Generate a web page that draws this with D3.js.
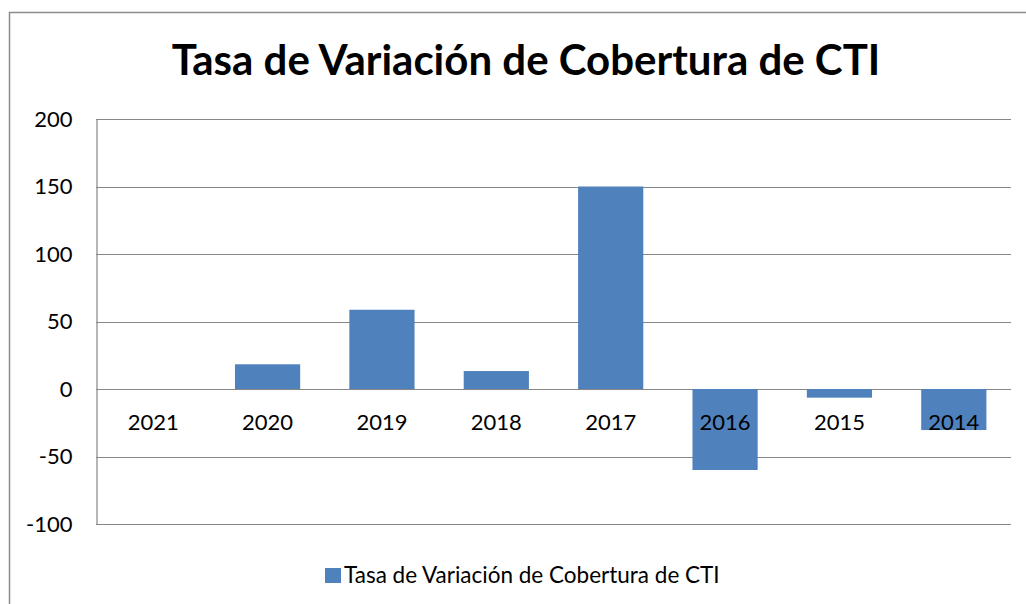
<!DOCTYPE html>
<html>
<head>
<meta charset="utf-8">
<script src="https://cdn.jsdelivr.net/npm/d3@7"></script>
<style>
  body { margin: 0; background: #fff; }
  text { font-family: Lato, "Open Sans", sans-serif; fill: #000; }
</style>
</head>
<body>
<script>
// chart data
const years = ['2021', '2020', '2019', '2018', '2017', '2016', '2015', '2014'];
const values = [0, 18.3, 58.7, 13.3, 150, -60, -6.4, -30.4];
const yTicks = [-100, -50, 0, 50, 100, 150, 200];
const chartTitle = 'Tasa de Variación de Cobertura de CTI';
const seriesName = 'Tasa de Variación de Cobertura de CTI';

const WIDTH = 1026;
const HEIGHT = 604;
const PLOT = {left: 96, right: 1011, top: 119, bottom: 524};
const BAR_COLOR = '#4f81bd';
const GRID_COLOR = '#868686';

const svg = d3.select('body')
  .append('svg')
  .attr('width', WIDTH)
  .attr('height', HEIGHT);

// outer chart border (top and left only visible)
svg.append('path')
  .attr('d', 'M9.5,' + HEIGHT + ' V12.5 H' + WIDTH)
  .attr('fill', 'none')
  .attr('stroke', '#8c8c8c')
  .attr('stroke-width', 1.5);

// title
svg.append('text')
  .attr('x', 526)
  .attr('y', 75)
  .attr('text-anchor', 'middle')
  .style('font-size', '42px')
  .style('font-weight', 'bold')
  .text(chartTitle);

// scales
const xScale = d3.scaleBand()
  .domain(years)
  .range([PLOT.left, PLOT.right])
  .paddingInner(0.43)
  .paddingOuter(0.215);

const yScale = d3.scaleLinear()
  .domain([-100, 200])
  .range([PLOT.bottom, PLOT.top]);

// gridlines
svg.append('g')
  .attr('class', 'grid')
  .selectAll('line')
  .data(yTicks)
  .enter().append('line')
  .attr('x1', PLOT.left)
  .attr('x2', PLOT.right)
  .attr('y1', d => Math.round(yScale(d)) + 0.5)
  .attr('y2', d => Math.round(yScale(d)) + 0.5)
  .attr('stroke', GRID_COLOR)
  .attr('stroke-width', 1.2);

// y axis
const yAxis = d3.axisLeft(yScale)
  .tickValues(yTicks)
  .tickFormat(d => String(d))
  .tickSize(0)
  .tickPadding(24);

const yG = svg.append('g')
  .attr('class', 'y-axis')
  .attr('transform', 'translate(' + (PLOT.left + 0.5) + ',0)')
  .call(yAxis);

yG.select('.domain')
  .attr('stroke', GRID_COLOR)
  .attr('stroke-width', 1.2);

yG.selectAll('text')
  .style('font-size', '22px')
  .style('font-family', 'Lato, sans-serif')
  .attr('fill', '#000');

// bars
svg.selectAll('.bar')
  .data(values)
  .enter().append('rect')
  .attr('class', 'bar')
  .attr('x', (d, i) => xScale(years[i]))
  .attr('width', xScale.bandwidth())
  .attr('y', d => yScale(Math.max(0, d)))
  .attr('height', d => Math.abs(yScale(d) - yScale(0)))
  .attr('fill', BAR_COLOR);

// category labels near the zero line
const xAxis = d3.axisBottom(xScale)
  .tickSize(0)
  .tickPadding(25);

const xG = svg.append('g')
  .attr('class', 'x-axis')
  .attr('transform', 'translate(0,' + yScale(0) + ')')
  .call(xAxis);

xG.select('.domain').remove();
xG.selectAll('text')
  .style('font-size', '22px')
  .style('font-family', 'Lato, sans-serif')
  .attr('fill', '#000');

// legend
const legend = svg.append('g')
  .attr('class', 'legend')
  .attr('transform', 'translate(325,568)');

legend.append('rect')
  .attr('width', 16)
  .attr('height', 15)
  .attr('fill', BAR_COLOR);

legend.append('text')
  .attr('x', 19)
  .attr('y', 14.5)
  .style('font-size', '22.5px')
  .text(seriesName);
</script>
</body>
</html>
